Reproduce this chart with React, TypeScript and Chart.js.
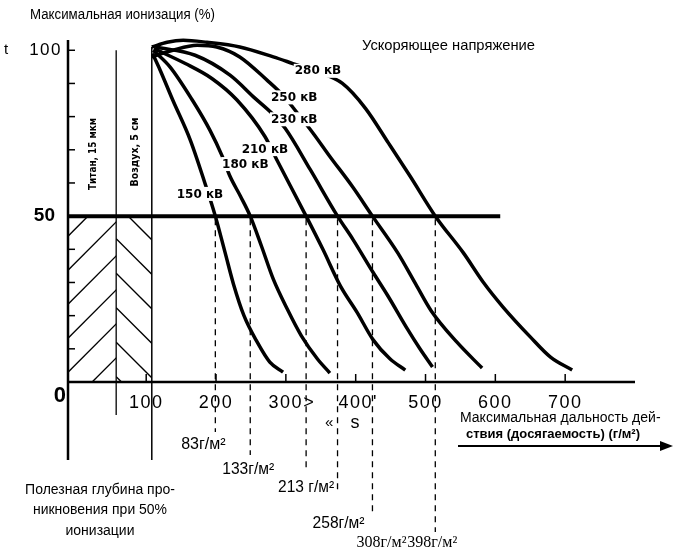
import React, { useEffect, useRef } from 'react';
import { Chart, registerables } from 'chart.js';

Chart.register(...registerables);

const W = 674;
const H = 551;

// Accelerating voltages and the ionisation curves: [range g/m², max. ionisation %]
const VOLTAGES = ['150 кВ', '180 кВ', '210 кВ', '230 кВ', '250 кВ', '280 кВ'];
const CURVE_150 = [[109, 99], [120, 94], [138, 85], [163, 73], [184, 60], [199, 50], [213, 39], [225, 29.5], [240, 20], [259, 12], [277, 6], [296, 3]];
const CURVE_180 = [[110, 100], [134, 95], [166, 85], [191, 76], [209, 68], [220, 62], [235, 56], [249, 50], [265, 41], [282, 31], [302, 22], [322, 14], [345, 7], [363, 2.7]];
const CURVE_210 = [[111, 100.5], [156, 96], [194, 91.5], [230, 85], [270, 74], [287, 67], [329, 50], [353, 40], [378, 29], [402, 21], [425, 12.7], [449, 7], [471, 3.6]];
const CURVE_230 = [[113, 101], [170, 98.5], [220, 92.5], [256, 85.5], [280, 81], [299, 76.5], [335, 64], [374, 50], [396, 43], [425, 33], [446, 26], [474, 16], [492, 10], [510, 4.5]];
const CURVE_250 = [[108, 98], [138, 100], [173, 101.5], [201, 101], [234, 98], [273, 91], [296, 86.4], [313, 82], [339, 75], [363, 68], [395, 59], [424, 50], [460, 39], [486, 29.5], [508, 21.5], [545, 12], [581, 4.2]];
const CURVE_280 = [[108, 101], [130, 102.4], [153, 103], [187, 102.4], [234, 101], [282, 98], [310, 96], [346, 93.4], [381, 90], [414, 82.5], [447, 72], [478, 62], [514, 50], [554, 39], [583, 30], [611, 22.6], [650, 13.6], [679, 7.5], [710, 3.6]];
const CURVES = [CURVE_150, CURVE_180, CURVE_210, CURVE_230, CURVE_250, CURVE_280];

// Useful penetration depth at 50 % ionisation, g/m², counted from DEPTH_ORIGIN
const DEPTH_50 = [83, 133, 213, 258, 308, 398];
const DEPTH_ORIGIN = 116;

// Titanium window and air gap boundaries on the range axis
const TITAN_EDGE = 57;
const AIR_EDGE = 108;
const HALF_LEVEL = 50;
const HALF_LINE_END = 607;

const X_TICKS = [100, 200, 300, 400, 500, 600, 700];
const X_TICK_TEXT = ['100', '200', '300>', "400'", '500', '600', '700'];
const Y_MINOR_TICKS = [10, 20, 30, 40, 60, 70, 80, 90, 100];
const Y_LABELS = [100, 50, 0];

const X_MIN = -12;
const X_MAX = 800;
const Y_MIN = 0;
const Y_MAX = 104;

// label anchor points for each voltage curve (data coordinates)
const VOLTAGE_LABEL_AT = [[177, 56.7], [242, 65.7], [270, 70.2], [312, 79.2], [312, 85.8], [346, 93.8]];

const SANS = '"Liberation Sans", Arial, sans-serif';
const SERIF = '"Liberation Serif", "Times New Roman", serif';
const DEJAVU = '"DejaVu Sans", sans-serif';

type Ctx = CanvasRenderingContext2D;

function seg(ctx: Ctx, ax: number, ay: number, bx: number, by: number) {
  ctx.beginPath();
  ctx.moveTo(ax, ay);
  ctx.lineTo(bx, by);
  ctx.stroke();
}

function label(
  ctx: Ctx,
  s: string,
  x: number,
  y: number,
  font: string,
  align: CanvasTextAlign = 'left',
  maxW?: number,
  spacing = 0
) {
  ctx.save();
  ctx.font = font;
  ctx.textAlign = align;
  ctx.textBaseline = 'middle';
  ctx.fillStyle = '#000';
  (ctx as any).letterSpacing = spacing + 'px';
  if (maxW) ctx.fillText(s, x, y, maxW);
  else ctx.fillText(s, x, y);
  ctx.restore();
}

const figurePlugin = {
  id: 'figure',
  beforeDraw(chart: any) {
    const { ctx, width, height } = chart;
    ctx.save();
    ctx.fillStyle = '#fff';
    ctx.fillRect(0, 0, width, height);
    ctx.restore();
  },
  beforeDatasetsDraw(chart: any) {
    const { ctx, chartArea, scales } = chart;
    const X = (v: number) => scales.x.getPixelForValue(v);
    const Y = (v: number) => scales.y.getPixelForValue(v);
    const x0 = X(X_MIN);
    const x1 = X(TITAN_EDGE);
    const x2 = X(AIR_EDGE);
    const yHalf = Y(HALF_LEVEL);
    const yBot = Y(0);

    ctx.save();
    ctx.strokeStyle = '#000';

    // titanium window hatching
    ctx.save();
    ctx.beginPath();
    ctx.rect(x0, yHalf, x1 - x0, yBot - yHalf);
    ctx.clip();
    ctx.lineWidth = 1.4;
    for (let k = -1; k < 8; k++) {
      const yy = yHalf + 20 + 34 * k;
      seg(ctx, x0, yy, x0 + 140, yy - 140);
    }
    ctx.restore();

    // air gap hatching
    ctx.save();
    ctx.beginPath();
    ctx.rect(x1, yHalf, x2 - x1, yBot - yHalf);
    ctx.clip();
    ctx.lineWidth = 1.4;
    for (let k = -1; k < 8; k++) {
      const yy = yHalf - 12 + 34.5 * k;
      seg(ctx, x1, yy, x1 + 140, yy + 140);
    }
    ctx.restore();

    // boundaries of titanium and air layers
    ctx.lineWidth = 1.3;
    seg(ctx, x1, Y(100), x1, yBot + 33);
    ctx.lineWidth = 1.5;
    seg(ctx, x2, Y(101), x2, yBot + 78);

    // axes
    ctx.lineWidth = 2.5;
    seg(ctx, x0, chartArea.top + 3, x0, yBot + 78);
    seg(ctx, x0 - 1, yBot, chartArea.right, yBot);

    // inward ticks
    ctx.lineWidth = 1.5;
    Y_MINOR_TICKS.forEach((v) => seg(ctx, x0, Y(v), x0 + 7, Y(v)));
    X_TICKS.forEach((v) => seg(ctx, X(v), yBot, X(v), yBot - 8));
    ctx.restore();
  },
  afterDatasetsDraw(chart: any) {
    const { ctx, scales } = chart;
    const X = (v: number) => scales.x.getPixelForValue(v);
    const Y = (v: number) => scales.y.getPixelForValue(v);
    const x0 = X(X_MIN);
    const yHalf = Y(HALF_LEVEL);
    const yBot = Y(0);

    // 50 % depth guides
    const GUIDE_DROP = [50, 73, 88, 110, 133, 150];
    ctx.save();
    ctx.strokeStyle = '#000';
    ctx.lineWidth = 1.3;
    ctx.setLineDash([6, 5]);
    DEPTH_50.forEach((d, i) => {
      const gx = X(DEPTH_ORIGIN + d);
      seg(ctx, gx, yHalf + 3, gx, yBot + GUIDE_DROP[i]);
    });
    ctx.restore();

    // depth captions
    const DEPTH_CAPTION = [
      { dx: -12, dy: 63, font: `16px ${SANS}`, align: 'center', w: 47 },
      { dx: -2, dy: 88, font: `16px ${SANS}`, align: 'center', w: 52 },
      { dx: 0, dy: 106, font: `16px ${SANS}`, align: 'center', w: 56 },
      { dx: 1, dy: 142, font: `16px ${SANS}`, align: 'center', w: 52 },
      { dx: 34, dy: 161, font: `16px ${SERIF}`, align: 'right', w: 52 },
      { dx: -28, dy: 161, font: `16px ${SERIF}`, align: 'left', w: 58 },
    ];
    DEPTH_50.forEach((d, i) => {
      const c = DEPTH_CAPTION[i];
      const gx = X(DEPTH_ORIGIN + d);
      const txt = i === 2 ? `${d} г/м²` : `${d}г/м²`;
      label(ctx, txt, gx + c.dx, yBot + c.dy, c.font, c.align as CanvasTextAlign, c.w);
    });
    label(ctx, '«', X(362), yBot + 41, `15px ${SANS}`, 'center');
    label(ctx, 's', X(399), yBot + 41, `18px ${SANS}`, 'center');

    // voltage labels, cut into their curves
    ctx.save();
    ctx.font = `bold 12px ${DEJAVU}`;
    VOLTAGES.forEach((v, i) => {
      const [lx, ly] = VOLTAGE_LABEL_AT[i];
      const cx = X(lx);
      const cy = Y(ly);
      const w = ctx.measureText(v).width;
      ctx.fillStyle = '#fff';
      ctx.fillRect(cx - w / 2 - 1, cy - 7, w + 2, 14);
      ctx.fillStyle = '#000';
      ctx.textAlign = 'center';
      ctx.textBaseline = 'middle';
      ctx.fillText(v, cx, cy + 0.5);
    });
    ctx.restore();

    // y-axis values
    const Y_LABEL_STYLE: Record<number, { font: string; dx: number; dy: number; sp: number }> = {
      100: { font: `17px ${SANS}`, dx: -6, dy: 0, sp: 1.5 },
      50: { font: `bold 19px ${SANS}`, dx: -13, dy: 0, sp: 0 },
      0: { font: `bold 22px ${SANS}`, dx: -2, dy: 14, sp: 0 },
    };
    Y_LABELS.forEach((v) => {
      const s = Y_LABEL_STYLE[v];
      label(ctx, String(v), x0 + s.dx, Y(v) + s.dy, s.font, 'right', undefined, s.sp);
    });

    // x-axis values
    ctx.save();
    ctx.font = `18px ${SANS}`;
    (ctx as any).letterSpacing = '1.5px';
    X_TICKS.forEach((v, i) => {
      const w = ctx.measureText(String(v)).width;
      label(ctx, X_TICK_TEXT[i], X(v) - w / 2, yBot + 21, `18px ${SANS}`, 'left', undefined, 1.5);
    });
    ctx.restore();

    // titles and notes
    label(ctx, 'Максимальная ионизация (%)', 30, 15, `14px ${SANS}`, 'left', 185);
    label(ctx, 't', 4, 50, `15px ${SANS}`, 'left');
    label(ctx, 'Ускоряющее напряжение', 362, 46, `15px ${SANS}`, 'left', 173);

    const vertical = (s: string, cx: number, cy: number, w: number) => {
      ctx.save();
      ctx.translate(cx, cy);
      ctx.rotate(-Math.PI / 2);
      ctx.font = `bold 11px ${DEJAVU}`;
      ctx.fillStyle = '#000';
      ctx.textAlign = 'center';
      ctx.textBaseline = 'middle';
      ctx.fillText(s, 0, 0, w);
      ctx.restore();
    };
    vertical('Титан, 15 мкм', 93, 154, 72);
    vertical('Воздух, 5 см', 135, 152, 69);

    label(ctx, 'Полезная глубина про-', 100, 490, `14px ${SANS}`, 'center', 150);
    label(ctx, 'никновения при 50%', 100, 510, `14px ${SANS}`, 'center', 134);
    label(ctx, 'ионизации', 100, 531, `14px ${SANS}`, 'center', 80);

    label(ctx, 'Максимальная дальность дей-', 460, 418, `14px ${SANS}`, 'left', 205);
    label(ctx, 'ствия (досягаемость) (г/м²)', 466, 434, `bold 13px ${SANS}`, 'left', 195);

    ctx.save();
    ctx.strokeStyle = '#000';
    ctx.fillStyle = '#000';
    ctx.lineWidth = 2;
    seg(ctx, 458, 446, 662, 446);
    ctx.beginPath();
    ctx.moveTo(660, 441);
    ctx.lineTo(673, 446);
    ctx.lineTo(660, 451);
    ctx.closePath();
    ctx.fill();
    ctx.restore();
  },
};

export default function App() {
  const ref = useRef<HTMLCanvasElement>(null);

  useEffect(() => {
    document.body.style.margin = '0';
    const canvas = ref.current;
    if (!canvas) return;

    const datasets: any[] = CURVES.map((c, i) => ({
      label: VOLTAGES[i],
      data: c.map(([x, y]) => ({ x, y })),
      borderColor: '#000',
      borderWidth: 3.5,
      pointRadius: 0,
      fill: false,
      cubicInterpolationMode: 'monotone',
    }));
    datasets.push({
      label: '50 %',
      data: [
        { x: X_MIN, y: HALF_LEVEL },
        { x: HALF_LINE_END, y: HALF_LEVEL },
      ],
      borderColor: '#000',
      borderWidth: 4,
      pointRadius: 0,
      fill: false,
    });

    const chart = new Chart(canvas, {
      type: 'line',
      data: { datasets },
      options: {
        responsive: false,
        animation: false,
        devicePixelRatio: 1,
        parsing: true,
        layout: { padding: { left: 68, right: 39, top: 37, bottom: 169 } },
        scales: {
          x: { type: 'linear', min: X_MIN, max: X_MAX, display: false },
          y: { type: 'linear', min: Y_MIN, max: Y_MAX, display: false },
        },
        plugins: {
          legend: { display: false },
          tooltip: { enabled: false },
        },
        elements: { point: { radius: 0 } },
      },
      plugins: [figurePlugin],
    } as any);

    return () => chart.destroy();
  }, []);

  return (
    <div style={{ position: 'fixed', left: 0, top: 0, width: W, height: H, background: '#fff' }}>
      <canvas ref={ref} width={W} height={H} style={{ display: 'block', width: W, height: H }} />
    </div>
  );
}
